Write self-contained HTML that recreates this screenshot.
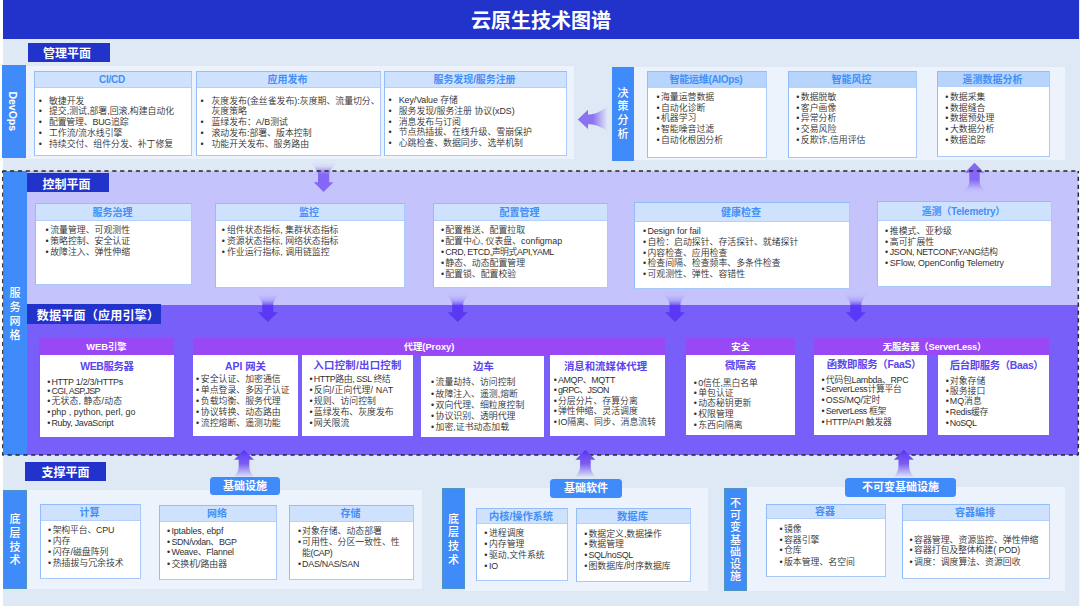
<!DOCTYPE html><html lang="zh-CN"><head><meta charset="utf-8"><title>云原生技术图谱</title><style>
*{margin:0;padding:0;box-sizing:border-box}
html,body{width:1080px;height:606px;overflow:hidden;background:#fff}
body{font-family:"Liberation Sans","Noto Sans CJK SC",sans-serif;color:#222;position:relative}
.a{position:absolute}
.bg{background:#dfe9f5}
.panel{background:#edf3fd}
.dark{background:#2233cc;color:#fff;font-weight:bold;font-size:12px;text-align:center;white-space:nowrap}
.vbar{background:#3f8bfa;color:#fff;font-weight:500;font-size:11px;text-align:center}
.vbar span{display:block}
.gb{box-shadow:inset 0 0 0 1px rgba(112,173,71,0.3)}
.box{background:#fff;border:1px solid;border-color:#93bcf9 #a8c9fb #a8c9fb #93bcf9}
.hd{left:0;top:0;right:0;background:#cfe2fd;border-bottom:1px solid #b4d0fc;color:#438ff7;font-weight:bold;font-size:10px;text-align:center;white-space:nowrap;padding-right:2px;overflow:hidden}
.hd2{background:#b7d4fd}
.l{font-size:8.9px;line-height:11px;height:11px;white-space:nowrap;color:#303030;font-weight:350}
.b{font-size:8.9px;line-height:11px;height:11px;color:#303030}
.grp{background:#9848f4}
.gh{left:0;top:0;right:0;color:#fff;font-weight:bold;font-size:9.3px;text-align:center;white-space:nowrap}
.wb{background:#fff}
.wt{left:0;right:0;color:#5a46ee;font-weight:bold;font-size:10.4px;text-align:center;white-space:nowrap;line-height:12px;height:12px}
.pill{background:#3f8bfa;color:#fff;font-weight:bold;font-size:11px;text-align:center;border-radius:3.5px;white-space:nowrap}
</style></head><body>
<div class="a bg" style="left:3.0px;top:0.0px;width:1077.0px;height:606.0px;"></div>
<div class="a dark" style="left:3.0px;top:0.0px;width:1076.0px;height:39.0px;font-size:20px;line-height:42.5px;">云原生技术图谱</div>
<div class="a dark" style="left:28.0px;top:43.0px;width:82.0px;height:19.0px;line-height:22px;padding-right:4px;">管理平面</div>
<div class="a panel" style="left:26.0px;top:66.0px;width:548.0px;height:93.0px;"></div>
<div class="a vbar" style="left:2.0px;top:65.0px;width:24.0px;height:93.0px;"><div class="a" style="left:0;top:0;width:92.5px;height:23.6px;line-height:23.6px;transform-origin:0 0;transform:translate(21.6px,0) rotate(90deg);font-size:10.5px;font-weight:bold;text-align:center">DevOps</div></div>
<div class="a box" style="left:34.0px;top:71.0px;width:158.0px;height:85.0px;"><div class="a hd" style="height:16.0px;line-height:16.5px;letter-spacing:-0.2px;">CI/CD</div><div class="a b" style="left:3.7px;top:23.7px">•</div><div class="a l" style="left:14.0px;top:23.7px;">敏捷开发</div><div class="a b" style="left:3.7px;top:34.4px">•</div><div class="a l" style="left:14.0px;top:34.4px;">提交,测试,部署,回滚,构建自动化</div><div class="a b" style="left:3.7px;top:45.1px">•</div><div class="a l" style="left:14.0px;top:45.1px;letter-spacing:-0.19px;">配置管理、BUG追踪</div><div class="a b" style="left:3.7px;top:55.9px">•</div><div class="a l" style="left:14.0px;top:55.9px;">工作流/流水线引擎</div><div class="a b" style="left:3.7px;top:66.6px">•</div><div class="a l" style="left:14.0px;top:66.6px;">持续交付、组件分发、补丁修复</div></div>
<div class="a box" style="left:196.0px;top:71.0px;width:185.0px;height:85.0px;"><div class="a hd" style="height:16.0px;line-height:16.5px;">应用发布</div><div class="a b" style="left:3.5px;top:23.7px">•</div><div class="a l" style="left:14.5px;top:23.7px;">灰度发布(金丝雀发布):灰度期、流量切分、</div><div class="a l" style="left:14.5px;top:34.4px;">灰度策略</div><div class="a b" style="left:3.5px;top:45.1px">•</div><div class="a l" style="left:14.5px;top:45.1px;">蓝绿发布：A/B测试</div><div class="a b" style="left:3.5px;top:55.9px">•</div><div class="a l" style="left:14.5px;top:55.9px;">滚动发布:部署、版本控制</div><div class="a b" style="left:3.5px;top:66.6px">•</div><div class="a l" style="left:14.5px;top:66.6px;">功能开关发布、服务路由</div></div>
<div class="a box" style="left:384.0px;top:71.0px;width:183.0px;height:85.0px;"><div class="a hd" style="height:16.0px;line-height:16.5px;letter-spacing:-0.1px;">服务发现/服务注册</div><div class="a b" style="left:3.5px;top:23.2px">•</div><div class="a l" style="left:13.7px;top:23.2px;letter-spacing:-0.08px;">Key/Value 存储</div><div class="a b" style="left:3.5px;top:33.9px">•</div><div class="a l" style="left:13.7px;top:33.9px;letter-spacing:-0.02px;">服务发现/服务注册 协议(xDS)</div><div class="a b" style="left:3.5px;top:44.6px">•</div><div class="a l" style="left:13.7px;top:44.6px;">消息发布与订阅</div><div class="a b" style="left:3.5px;top:55.4px">•</div><div class="a l" style="left:13.7px;top:55.4px;">节点热插拔、在线升级、雪崩保护</div><div class="a b" style="left:3.5px;top:66.1px">•</div><div class="a l" style="left:13.7px;top:66.1px;">心跳检查、数据同步、选举机制</div></div>
<div class="a panel" style="left:634.0px;top:67.0px;width:431.0px;height:93.0px;"></div>
<div class="a vbar" style="left:612.0px;top:67.0px;width:22.0px;height:94.0px;"><div class="a" style="left:0;right:0;top:19.5px;line-height:13.8px"><span>决</span><span>策</span><span>分</span><span>析</span></div></div>
<div class="a box" style="left:647.0px;top:71.0px;width:120.0px;height:87.0px;"><div class="a hd hd2" style="height:16.0px;line-height:16.5px;letter-spacing:-0.3px;">智能运维(AIOps)</div><div class="a b" style="left:8.4px;top:19.9px">•</div><div class="a l" style="left:13.0px;top:19.9px;">海量运营数据</div><div class="a b" style="left:8.4px;top:30.6px">•</div><div class="a l" style="left:13.0px;top:30.6px;">自动化诊断</div><div class="a b" style="left:8.4px;top:41.3px">•</div><div class="a l" style="left:13.0px;top:41.3px;">机器学习</div><div class="a b" style="left:8.4px;top:52.1px">•</div><div class="a l" style="left:13.0px;top:52.1px;">智能噪音过滤</div><div class="a b" style="left:8.4px;top:62.8px">•</div><div class="a l" style="left:13.0px;top:62.8px;">自动化根因分析</div></div>
<div class="a box" style="left:788.0px;top:71.0px;width:129.0px;height:87.0px;"><div class="a hd hd2" style="height:16.0px;line-height:16.5px;">智能风控</div><div class="a b" style="left:7.2px;top:19.9px">•</div><div class="a l" style="left:11.8px;top:19.9px;">数据脱敏</div><div class="a b" style="left:7.2px;top:30.6px">•</div><div class="a l" style="left:11.8px;top:30.6px;">客户画像</div><div class="a b" style="left:7.2px;top:41.3px">•</div><div class="a l" style="left:11.8px;top:41.3px;">异常分析</div><div class="a b" style="left:7.2px;top:52.1px">•</div><div class="a l" style="left:11.8px;top:52.1px;">交易风险</div><div class="a b" style="left:7.2px;top:62.8px">•</div><div class="a l" style="left:11.8px;top:62.8px;">反欺诈,信用评估</div></div>
<div class="a box" style="left:937.0px;top:71.0px;width:113.0px;height:86.0px;"><div class="a hd hd2" style="height:15.0px;line-height:15.5px;">遥测数据分析</div><div class="a b" style="left:7.3px;top:19.9px">•</div><div class="a l" style="left:12.0px;top:19.9px;">数据采集</div><div class="a b" style="left:7.3px;top:30.6px">•</div><div class="a l" style="left:12.0px;top:30.6px;">数据缝合</div><div class="a b" style="left:7.3px;top:41.3px">•</div><div class="a l" style="left:12.0px;top:41.3px;">数据预处理</div><div class="a b" style="left:7.3px;top:52.1px">•</div><div class="a l" style="left:12.0px;top:52.1px;">大数据分析</div><div class="a b" style="left:7.3px;top:62.8px">•</div><div class="a l" style="left:12.0px;top:62.8px;">数据追踪</div></div>
<div class="a " style="left:1079.0px;top:171.0px;width:1.0px;height:435.0px;background:#f4f8fe;"></div>
<div class="a " style="left:3.0px;top:171.0px;width:1075.0px;height:134.0px;background:#c5c3fb;"></div>
<div class="a " style="left:3.0px;top:305.0px;width:1075.0px;height:150.0px;background:#785ffa;"></div>
<div class="a vbar" style="left:3.0px;top:171.0px;width:24.0px;height:284.0px;"><div class="a" style="left:0;right:0;top:116.3px;line-height:13.8px"><span>服</span><span>务</span><span>网</span><span>格</span></div></div>
<div class="a dark" style="left:27.0px;top:173.0px;width:82.0px;height:19.0px;line-height:24px;padding-right:3px;">控制平面</div>
<div class="a dark" style="left:27.0px;top:304.0px;width:134.0px;height:20.0px;line-height:24px;letter-spacing:0.25px;padding-left:8px;">数据平面（应用引擎）</div>
<div class="a box" style="left:35.0px;top:203.0px;width:157.0px;height:82.0px;"><div class="a hd" style="height:17.0px;line-height:17.5px;">服务治理</div><div class="a b" style="left:9.4px;top:21.3px">•</div><div class="a l" style="left:14.2px;top:21.3px;">流量管理、可观测性</div><div class="a b" style="left:9.4px;top:32.2px">•</div><div class="a l" style="left:14.2px;top:32.2px;">策略控制、安全认证</div><div class="a b" style="left:9.4px;top:43.1px">•</div><div class="a l" style="left:14.2px;top:43.1px;">故障注入、弹性伸缩</div></div>
<div class="a box" style="left:215.0px;top:203.0px;width:190.0px;height:85.0px;"><div class="a hd" style="height:17.0px;line-height:17.5px;">监控</div><div class="a b" style="left:5.8px;top:21.3px">•</div><div class="a l" style="left:11.0px;top:21.3px;">组件状态指标, 集群状态指标</div><div class="a b" style="left:5.8px;top:32.2px">•</div><div class="a l" style="left:11.0px;top:32.2px;">资源状态指标, 网络状态指标</div><div class="a b" style="left:5.8px;top:43.1px">•</div><div class="a l" style="left:11.0px;top:43.1px;">作业运行指标, 调用链监控</div></div>
<div class="a box" style="left:433.0px;top:203.0px;width:175.0px;height:85.0px;"><div class="a hd" style="height:17.0px;line-height:17.5px;">配置管理</div><div class="a b" style="left:6.9px;top:21.4px">•</div><div class="a l" style="left:11.2px;top:21.4px;">配置推送、配置拉取</div><div class="a b" style="left:6.9px;top:32.2px">•</div><div class="a l" style="left:11.2px;top:32.2px;">配置中心, 仪表盘、configmap</div><div class="a b" style="left:6.9px;top:43.0px">•</div><div class="a l" style="left:11.2px;top:43.0px;letter-spacing:-0.43px;">CRD, ETCD,声明式API,YAML</div><div class="a b" style="left:6.9px;top:53.8px">•</div><div class="a l" style="left:11.2px;top:53.8px;">静态、动态配置管理</div><div class="a b" style="left:6.9px;top:64.6px">•</div><div class="a l" style="left:11.2px;top:64.6px;">配置锁、配置校验</div></div>
<div class="a box" style="left:634.0px;top:202.0px;width:216.0px;height:87.0px;"><div class="a hd" style="height:19.0px;line-height:19.5px;">健康检查</div><div class="a b" style="left:8.0px;top:23.0px">•</div><div class="a l" style="left:12.4px;top:23.0px;letter-spacing:-0.07px;">Design for fail</div><div class="a b" style="left:8.0px;top:33.8px">•</div><div class="a l" style="left:12.4px;top:33.8px;">自检：启动探针、存活探针、就绪探针</div><div class="a b" style="left:8.0px;top:44.6px">•</div><div class="a l" style="left:12.4px;top:44.6px;">内容检查、应用检查</div><div class="a b" style="left:8.0px;top:55.4px">•</div><div class="a l" style="left:12.4px;top:55.4px;">检查间隔、检查频率、多条件检查</div><div class="a b" style="left:8.0px;top:66.2px">•</div><div class="a l" style="left:12.4px;top:66.2px;">可观测性、弹性、容错性</div></div>
<div class="a box" style="left:877.0px;top:201.0px;width:175.0px;height:86.0px;"><div class="a hd" style="height:19.0px;line-height:19.5px;letter-spacing:-0.25px;">遥测（Telemetry）</div><div class="a b" style="left:7.0px;top:23.7px">•</div><div class="a l" style="left:11.8px;top:23.7px;">推模式、亚秒级</div><div class="a b" style="left:7.0px;top:34.5px">•</div><div class="a l" style="left:11.8px;top:34.5px;">高可扩展性</div><div class="a b" style="left:7.0px;top:45.3px">•</div><div class="a l" style="left:11.8px;top:45.3px;letter-spacing:-0.37px;">JSON, NETCONF,YANG结构</div><div class="a b" style="left:7.0px;top:56.1px">•</div><div class="a l" style="left:11.8px;top:56.1px;letter-spacing:-0.12px;">SFlow, OpenConfig Telemetry</div></div>
<div class="a grp" style="left:39.0px;top:338.0px;width:135.0px;height:99.0px;"></div>
<div class="a grp" style="left:39.0px;top:338.0px;width:135.0px;height:17.0px;"><div class="a gh" style="height:17.0px;line-height:18.0px;">WEB引擎</div></div>
<div class="a wb" style="left:40.0px;top:355.0px;width:134.0px;height:82.0px;"><div class="a wt" style="top:5.5px;letter-spacing:-0.35px;">WEB服务器</div><div class="a b" style="left:7.3px;top:21.7px">•</div><div class="a l" style="left:11.4px;top:21.7px;letter-spacing:-0.23px;">HTTP 1/2/3/HTTPs</div><div class="a b" style="left:7.3px;top:30.5px">•</div><div class="a l" style="left:11.4px;top:30.5px;letter-spacing:-0.59px;">CGI, ASP,JSP</div><div class="a b" style="left:7.3px;top:41.3px">•</div><div class="a l" style="left:11.4px;top:41.3px;letter-spacing:0.13px;">无状态, 静态/动态</div><div class="a b" style="left:7.3px;top:52.3px">•</div><div class="a l" style="left:11.4px;top:52.3px;letter-spacing:0.03px;">php , python, perl, go</div><div class="a b" style="left:7.3px;top:62.9px">•</div><div class="a l" style="left:11.4px;top:62.9px;letter-spacing:-0.28px;">Ruby, JavaScript</div></div>
<div class="a grp" style="left:193.0px;top:338.0px;width:472.0px;height:17.0px;"><div class="a gh" style="height:17.0px;line-height:18.0px;">代理(Proxy)</div></div>
<div class="a wb" style="left:193.0px;top:355.0px;width:105.0px;height:81.0px;"><div class="a wt" style="top:6.4px;">API 网关</div><div class="a b" style="left:3.0px;top:19.4px">•</div><div class="a l" style="left:7.8px;top:19.4px;">安全认证、加密通信</div><div class="a b" style="left:3.0px;top:30.4px">•</div><div class="a l" style="left:7.8px;top:30.4px;">单点登录、多因子认证</div><div class="a b" style="left:3.0px;top:41.0px">•</div><div class="a l" style="left:7.8px;top:41.0px;">负载均衡、服务代理</div><div class="a b" style="left:3.0px;top:51.8px">•</div><div class="a l" style="left:7.8px;top:51.8px;">协议转换、动态路由</div><div class="a b" style="left:3.0px;top:62.5px">•</div><div class="a l" style="left:7.8px;top:62.5px;">流控熔断、遥测功能</div></div>
<div class="a wb" style="left:302.0px;top:355.0px;width:111.0px;height:81.0px;"><div class="a wt" style="top:5.2px;letter-spacing:0.25px;">入口控制/出口控制</div><div class="a b" style="left:7.5px;top:19.4px">•</div><div class="a l" style="left:11.8px;top:19.4px;letter-spacing:-0.43px;">HTTP路由, SSL 终结</div><div class="a b" style="left:7.5px;top:30.4px">•</div><div class="a l" style="left:11.8px;top:30.4px;letter-spacing:0.15px;">反向/正向代理/ NAT</div><div class="a b" style="left:7.5px;top:41.0px">•</div><div class="a l" style="left:11.8px;top:41.0px;">规则、访问控制</div><div class="a b" style="left:7.5px;top:51.8px">•</div><div class="a l" style="left:11.8px;top:51.8px;">蓝绿发布、灰度发布</div><div class="a b" style="left:7.5px;top:62.5px">•</div><div class="a l" style="left:11.8px;top:62.5px;">网关限流</div></div>
<div class="a wb" style="left:421.0px;top:356.0px;width:123.0px;height:81.0px;"><div class="a wt" style="top:5.4px;padding-left:2px;">边车</div><div class="a b" style="left:10.0px;top:21.3px">•</div><div class="a l" style="left:14.6px;top:21.3px;">流量劫持、访问控制</div><div class="a b" style="left:10.0px;top:32.7px">•</div><div class="a l" style="left:14.6px;top:32.7px;">故障注入、遥测,熔断</div><div class="a b" style="left:10.0px;top:44.0px">•</div><div class="a l" style="left:14.6px;top:44.0px;">双向代理、细粒度控制</div><div class="a b" style="left:10.0px;top:54.8px">•</div><div class="a l" style="left:14.6px;top:54.8px;">协议识别、透明代理</div><div class="a b" style="left:10.0px;top:65.8px">•</div><div class="a l" style="left:14.6px;top:65.8px;">加密,证书动态加载</div></div>
<div class="a wb" style="left:550.0px;top:355.0px;width:115.0px;height:81.0px;"><div class="a wt" style="top:5.7px;padding-right:4px;">消息和流媒体代理</div><div class="a b" style="left:3.8px;top:19.9px">•</div><div class="a l" style="left:8.0px;top:19.9px;letter-spacing:-0.35px;">AMQP、MQTT</div><div class="a b" style="left:3.8px;top:29.9px">•</div><div class="a l" style="left:8.0px;top:29.9px;letter-spacing:-0.60px;">gRPC、JSON</div><div class="a b" style="left:3.8px;top:40.5px">•</div><div class="a l" style="left:8.0px;top:40.5px;">分层分片、存算分离</div><div class="a b" style="left:3.8px;top:51.3px">•</div><div class="a l" style="left:8.0px;top:51.3px;">弹性伸缩、灵活调度</div><div class="a b" style="left:3.8px;top:62.0px">•</div><div class="a l" style="left:8.0px;top:62.0px;letter-spacing:-0.01px;">IO隔离、同步、消息流转</div></div>
<div class="a grp" style="left:686.0px;top:338.0px;width:109.0px;height:17.0px;"><div class="a gh" style="height:17.0px;line-height:18.0px;">安全</div></div>
<div class="a wb" style="left:686.0px;top:355.0px;width:109.0px;height:80.0px;"><div class="a wt" style="top:5.2px;">微隔离</div><div class="a b" style="left:7.7px;top:23.1px">•</div><div class="a l" style="left:12.2px;top:23.1px;letter-spacing:-0.12px;">0信任,黑白名单</div><div class="a b" style="left:7.7px;top:32.7px">•</div><div class="a l" style="left:12.2px;top:32.7px;">单包认证</div><div class="a b" style="left:7.7px;top:43.2px">•</div><div class="a l" style="left:12.2px;top:43.2px;">动态秘钥更新</div><div class="a b" style="left:7.7px;top:54.0px">•</div><div class="a l" style="left:12.2px;top:54.0px;">权限管理</div><div class="a b" style="left:7.7px;top:65.1px">•</div><div class="a l" style="left:12.2px;top:65.1px;">东西向隔离</div></div>
<div class="a grp" style="left:814.0px;top:338.0px;width:235.0px;height:17.0px;"><div class="a gh" style="height:17.0px;line-height:18.0px;letter-spacing:-0.15px;padding-left:6px;">无服务器（ServerLess）</div></div>
<div class="a wb" style="left:814.0px;top:355.0px;width:113.0px;height:80.0px;"><div class="a wt" style="top:4.4px;letter-spacing:-0.3px;padding-left:7px;">函数即服务（FaaS）</div><div class="a b" style="left:7.5px;top:19.9px">•</div><div class="a l" style="left:11.8px;top:19.9px;letter-spacing:-0.29px;">代码包Lambda、RPC</div><div class="a b" style="left:7.5px;top:29.4px">•</div><div class="a l" style="left:11.8px;top:29.4px;letter-spacing:-0.33px;">ServerLess计算平台</div><div class="a b" style="left:7.5px;top:40.0px">•</div><div class="a l" style="left:11.8px;top:40.0px;letter-spacing:-0.14px;">OSS/MQ/定时</div><div class="a b" style="left:7.5px;top:51.0px">•</div><div class="a l" style="left:11.8px;top:51.0px;letter-spacing:-0.38px;">ServerLess 框架</div><div class="a b" style="left:7.5px;top:61.5px">•</div><div class="a l" style="left:11.8px;top:61.5px;letter-spacing:-0.27px;">HTTP/API 触发器</div></div>
<div class="a wb" style="left:938.0px;top:355.0px;width:111.0px;height:80.0px;"><div class="a wt" style="top:5.2px;letter-spacing:-0.35px;padding-left:6px;">后台即服务（Baas）</div><div class="a b" style="left:7.8px;top:20.6px">•</div><div class="a l" style="left:11.8px;top:20.6px;">对象存储</div><div class="a b" style="left:7.8px;top:30.7px">•</div><div class="a l" style="left:11.8px;top:30.7px;">服务接口</div><div class="a b" style="left:7.8px;top:41.0px">•</div><div class="a l" style="left:11.8px;top:41.0px;letter-spacing:0.01px;">MQ消息</div><div class="a b" style="left:7.8px;top:52.0px">•</div><div class="a l" style="left:11.8px;top:52.0px;letter-spacing:-0.29px;">Redis缓存</div><div class="a b" style="left:7.8px;top:62.5px">•</div><div class="a l" style="left:11.8px;top:62.5px;letter-spacing:-0.50px;">NoSQL</div></div>
<div class="a dark" style="left:25.0px;top:462.0px;width:81.0px;height:19.0px;line-height:22px;">支撑平面</div>
<div class="a panel" style="left:27.0px;top:490.0px;width:395.0px;height:99.0px;"></div>
<div class="a vbar gb" style="left:3.0px;top:490.0px;width:24.0px;height:99.0px;"><div class="a" style="left:0;right:0;top:23px;line-height:13.8px"><span>底</span><span>层</span><span>技</span><span>术</span></div></div>
<div class="a box" style="left:40.0px;top:504.0px;width:101.0px;height:75.0px;"><div class="a hd" style="height:16.0px;line-height:16.5px;">计算</div><div class="a b" style="left:7.0px;top:20.1px">•</div><div class="a l" style="left:11.7px;top:20.1px;letter-spacing:-0.20px;">架构平台、CPU</div><div class="a b" style="left:7.0px;top:31.1px">•</div><div class="a l" style="left:11.7px;top:31.1px;">内存</div><div class="a b" style="left:7.0px;top:41.9px">•</div><div class="a l" style="left:11.7px;top:41.9px;">闪存/磁盘阵列</div><div class="a b" style="left:7.0px;top:53.0px">•</div><div class="a l" style="left:11.7px;top:53.0px;">热插拔与冗余技术</div></div>
<div class="a box" style="left:159.0px;top:505.0px;width:118.0px;height:75.0px;"><div class="a hd" style="height:16.0px;line-height:16.5px;">网络</div><div class="a b" style="left:7.0px;top:19.8px">•</div><div class="a l" style="left:11.4px;top:19.8px;letter-spacing:-0.10px;">Iptables, ebpf</div><div class="a b" style="left:7.0px;top:30.6px">•</div><div class="a l" style="left:11.4px;top:30.6px;letter-spacing:-0.33px;">SDN/vxlan、BGP</div><div class="a b" style="left:7.0px;top:41.4px">•</div><div class="a l" style="left:11.4px;top:41.4px;letter-spacing:-0.23px;">Weave、Flannel</div><div class="a b" style="left:7.0px;top:52.5px">•</div><div class="a l" style="left:11.4px;top:52.5px;">交换机/路由器</div></div>
<div class="a box" style="left:289.0px;top:505.0px;width:125.0px;height:75.0px;"><div class="a hd" style="height:16.0px;line-height:16.5px;">存储</div><div class="a b" style="left:7.9px;top:19.8px">•</div><div class="a l" style="left:12.1px;top:19.8px;">对象存储、动态部署</div><div class="a b" style="left:7.9px;top:31.1px">•</div><div class="a l" style="left:12.1px;top:31.1px;">可用性、分区一致性、性</div><div class="a l" style="left:12.1px;top:41.9px;letter-spacing:-0.49px;">能(CAP)</div><div class="a b" style="left:7.9px;top:53.0px">•</div><div class="a l" style="left:12.1px;top:53.0px;letter-spacing:-0.24px;">DAS/NAS/SAN</div></div>
<div class="a panel" style="left:465.0px;top:488.0px;width:243.0px;height:103.0px;"></div>
<div class="a vbar gb" style="left:442.0px;top:488.0px;width:23.0px;height:101.0px;"><div class="a" style="left:0;right:0;top:24.5px;line-height:13.8px"><span>底</span><span>层</span><span>技</span><span>术</span></div></div>
<div class="a box" style="left:476.0px;top:508.0px;width:92.0px;height:73.0px;"><div class="a hd" style="height:15.0px;line-height:15.5px;font-size:10.2px;">内核/操作系统</div><div class="a b" style="left:7.3px;top:18.8px">•</div><div class="a l" style="left:12.0px;top:18.8px;">进程调度</div><div class="a b" style="left:7.3px;top:29.9px">•</div><div class="a l" style="left:12.0px;top:29.9px;">内存管理</div><div class="a b" style="left:7.3px;top:40.7px">•</div><div class="a l" style="left:12.0px;top:40.7px;">驱动,文件系统</div><div class="a b" style="left:7.3px;top:51.5px">•</div><div class="a l" style="left:12.0px;top:51.5px;letter-spacing:-0.24px;">IO</div></div>
<div class="a box" style="left:576.0px;top:508.0px;width:115.0px;height:74.0px;"><div class="a hd" style="height:15.0px;line-height:15.5px;font-size:10.3px;">数据库</div><div class="a b" style="left:7.2px;top:19.6px">•</div><div class="a l" style="left:11.4px;top:19.6px;">数据定义,数据操作</div><div class="a b" style="left:7.2px;top:30.1px">•</div><div class="a l" style="left:11.4px;top:30.1px;">数据管理</div><div class="a b" style="left:7.2px;top:41.2px">•</div><div class="a l" style="left:11.4px;top:41.2px;letter-spacing:-0.38px;">SQL/noSQL</div><div class="a b" style="left:7.2px;top:52.0px">•</div><div class="a l" style="left:11.4px;top:52.0px;">图数据库/时序数据库</div></div>
<div class="a panel" style="left:747.0px;top:487.0px;width:318.0px;height:104.0px;"></div>
<div class="a vbar gb" style="left:724.0px;top:488.0px;width:23.0px;height:103.0px;"><div class="a" style="left:0;right:0;top:8.7px;line-height:12.3px"><span>不</span><span>可</span><span>变</span><span>基</span><span>础</span><span>设</span><span>施</span></div></div>
<div class="a box" style="left:766.0px;top:504.0px;width:120.0px;height:73.0px;"><div class="a hd" style="height:14.0px;line-height:14.5px;">容器</div><div class="a b" style="left:12.4px;top:19.1px">•</div><div class="a l" style="left:16.9px;top:19.1px;">镜像</div><div class="a b" style="left:12.4px;top:29.6px">•</div><div class="a l" style="left:16.9px;top:29.6px;">容器引擎</div><div class="a b" style="left:12.4px;top:40.4px">•</div><div class="a l" style="left:16.9px;top:40.4px;">仓库</div><div class="a b" style="left:12.4px;top:51.5px">•</div><div class="a l" style="left:16.9px;top:51.5px;">版本管理、名空间</div></div>
<div class="a box" style="left:902.0px;top:504.0px;width:148.0px;height:75.0px;"><div class="a hd" style="height:16.0px;line-height:16.5px;">容器编排</div><div class="a b" style="left:6.4px;top:29.6px">•</div><div class="a l" style="left:11.1px;top:29.6px;">容器管理、资源监控、弹性伸缩</div><div class="a b" style="left:6.4px;top:40.4px">•</div><div class="a l" style="left:11.1px;top:40.4px;letter-spacing:-0.09px;">容器打包及整体构建( POD)</div><div class="a b" style="left:6.4px;top:51.5px">•</div><div class="a l" style="left:11.1px;top:51.5px;">调度：调度算法、资源回收</div></div>
<svg class="a" style="left:0;top:0" width="1080" height="606" viewBox="0 0 1080 606"><defs>
<linearGradient id="gd" x1="0" y1="0" x2="0" y2="1"><stop offset="0" stop-color="#5a38f5" stop-opacity="0"/><stop offset="0.15" stop-color="#5a38f5" stop-opacity="0.03"/><stop offset="0.3" stop-color="#5a38f5" stop-opacity="0.2"/><stop offset="0.42" stop-color="#5a38f5" stop-opacity="0.6"/><stop offset="0.5" stop-color="#5a38f5" stop-opacity="1"/><stop offset="1" stop-color="#5a38f5"/></linearGradient>
<linearGradient id="gd0" x1="0" y1="0" x2="0" y2="1"><stop offset="0" stop-color="#8468f5" stop-opacity="0"/><stop offset="0.15" stop-color="#8468f5" stop-opacity="0.12"/><stop offset="0.42" stop-color="#8468f5" stop-opacity="1"/><stop offset="1" stop-color="#8468f5"/></linearGradient>
<linearGradient id="gu" x1="0" y1="1" x2="0" y2="0"><stop offset="0" stop-color="#7b5cf2" stop-opacity="0"/><stop offset="0.5" stop-color="#7b5cf2" stop-opacity="1"/><stop offset="0.8" stop-color="#6a48f3"/><stop offset="1" stop-color="#4a2ef0"/></linearGradient>
<linearGradient id="gu2" x1="0" y1="1" x2="0" y2="0"><stop offset="0" stop-color="#8468f5" stop-opacity="0"/><stop offset="0.12" stop-color="#8468f5" stop-opacity="0.15"/><stop offset="0.42" stop-color="#8468f5" stop-opacity="1"/><stop offset="1" stop-color="#8468f5"/></linearGradient>
<linearGradient id="gl" x1="1" y1="0" x2="0" y2="0"><stop offset="0" stop-color="#8b72f0" stop-opacity="0"/><stop offset="0.5" stop-color="#8b72f0" stop-opacity="1"/><stop offset="1" stop-color="#8b72f0"/></linearGradient>
</defs><path d="M310.8 162.0 C314.0 166.8 317.5 170.4 318.0 174.0 L318.0 182.3 L313.8 182.3 L323.6 192.0 L333.4 182.3 L329.2 182.3 L329.2 174.0 C329.7 170.4 333.2 166.8 336.4 162.0 Z" fill="url(#gd0)"/><path d="M961.9 192.0 C967.8 188.2 969.3 184.8 969.3 181.0 L969.3 172.8 L964.7 172.8 L974.5 162.8 L984.3 172.8 L979.7 172.8 L979.7 181.0 C979.7 184.8 981.2 188.2 987.1 192.0 Z" fill="url(#gu2)"/><g fill="none" stroke="#26262e" stroke-width="1.5" stroke-dasharray="4.2 3.66"><path d="M2.3 171 H1078.3" stroke-dashoffset="0.1"/><path d="M2.3 455 H1078.3" stroke-dashoffset="2.56"/><path d="M2.6 171 V455" stroke-dashoffset="2" stroke-width="1"/><path d="M1078.3 171 V455" stroke-dashoffset="2"/></g><path d="M253.3 290.7 C258.3 296.0 261.8 300.0 262.3 304.0 L262.3 312.2 L257.8 312.2 L267.8 322.0 L277.8 312.2 L273.3 312.2 L273.3 304.0 C273.8 300.0 277.3 296.0 282.3 290.7 Z" fill="url(#gd)"/><path d="M443.2 290.7 C448.2 296.0 451.7 300.0 452.2 304.0 L452.2 312.2 L447.7 312.2 L457.7 322.0 L467.7 312.2 L463.2 312.2 L463.2 304.0 C463.7 300.0 467.2 296.0 472.2 290.7 Z" fill="url(#gd)"/><path d="M660.5 290.7 C665.5 296.0 669.0 300.0 669.5 304.0 L669.5 312.2 L665.0 312.2 L675.0 322.0 L685.0 312.2 L680.5 312.2 L680.5 304.0 C681.0 300.0 684.5 296.0 689.5 290.7 Z" fill="url(#gd)"/><path d="M841.3 290.7 C846.3 296.0 849.8 300.0 850.3 304.0 L850.3 312.2 L845.8 312.2 L855.8 322.0 L865.8 312.2 L861.3 312.2 L861.3 304.0 C861.8 300.0 865.3 296.0 870.3 290.7 Z" fill="url(#gd)"/><path d="M233.5 477.5 C237.2 473.5 238.7 470.0 238.7 466.0 L238.7 459.8 L234.0 459.8 L244.0 449.9 L254.0 459.8 L249.3 459.8 L249.3 466.0 C249.3 470.0 250.8 473.5 254.5 477.5 Z" fill="url(#gu)"/><path d="M574.9 477.5 C578.6 473.5 580.1 470.0 580.1 466.0 L580.1 459.8 L575.4 459.8 L585.4 449.9 L595.4 459.8 L590.7 459.8 L590.7 466.0 C590.7 470.0 592.2 473.5 595.9 477.5 Z" fill="url(#gu)"/><path d="M893.3 477.5 C897.0 473.5 898.5 470.0 898.5 466.0 L898.5 459.8 L893.8 459.8 L903.8 449.9 L913.8 459.8 L909.1 459.8 L909.1 466.0 C909.1 470.0 910.6 473.5 914.3 477.5 Z" fill="url(#gu)"/><path d="M607.5 106.7 C600 112 594 114.5 588 114.5 L588 109.7 L577.8 119.4 L588 129 L588 124.3 C594 124.3 600 126 607.5 131.2 Z" fill="url(#gl)"/></svg>
<div class="a pill" style="left:210.0px;top:477.0px;width:70.0px;height:18.0px;line-height:18.5px;">基础设施</div>
<div class="a pill" style="left:550.0px;top:479.0px;width:72.0px;height:19.0px;line-height:18.5px;">基础软件</div>
<div class="a pill" style="left:845.0px;top:478.0px;width:111.0px;height:19.0px;line-height:18.5px;">不可变基础设施</div>
</body></html>
